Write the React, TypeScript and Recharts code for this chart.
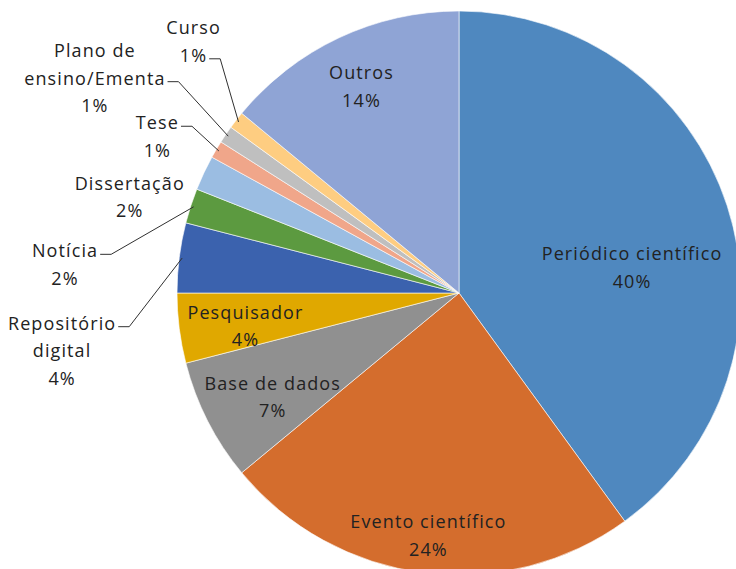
import React from 'react';
import { PieChart, Pie, Cell } from 'recharts';

// ----------------------------------------------------------------------------
// Data
// ----------------------------------------------------------------------------

const categories = [
  'Periódico científico',
  'Evento científico',
  'Base de dados',
  'Pesquisador',
  'Repositório\ndigital',
  'Notícia',
  'Dissertação',
  'Tese',
  'Plano de\nensino/Ementa',
  'Curso',
  'Outros',
];

const shares = [40, 24, 7, 4, 4, 2, 2, 1, 1, 1, 14];

const colors = [
  '#4F88BF',
  '#D46D2D',
  '#909090',
  '#E0A800',
  '#3B62AE',
  '#5C9A40',
  '#9BBDE2',
  '#F0A68A',
  '#BFBFBF',
  '#FECD81',
  '#8FA4D5',
];

// label placement: angle shift (deg, clockwise) from slice middle, distance from centre
// leader: index of the text line that carries the leader dash (-1 = none)
const labelLayout = [
  { shift: 9.5, dist: 175, leader: -1 },
  { shift: 0, dist: 244, leader: -1 },
  { shift: -2, dist: 213, leader: -1 },
  { shift: -1.5, dist: 216, leader: -1 },
  { shift: -15.4, dist: 401, leader: 0 },
  { shift: -13.8, dist: 395, leader: 0 },
  { shift: -8.9, dist: 343, leader: -1 },
  { shift: -3.1, dist: 340, leader: 0 },
  { shift: -3.6, dist: 423, leader: 1 },
  { shift: 5.7, dist: 366, leader: 1 },
  { shift: 0, dist: 229, leader: -1 },
];

const data = categories.map((name, i) => ({ name, value: shares[i] }));

// ----------------------------------------------------------------------------
// Styles
// ----------------------------------------------------------------------------

const FONT = '"Open Sans", sans-serif';
const FONT_SIZE = 18;
const LETTER_SP = 1.1;
const LINE_H = 27.5;
const TEXT_COLOR = '#222222';

const canvas = typeof document !== 'undefined' ? document.createElement('canvas') : null;
const measure = (s: string) => {
  const ctx = canvas?.getContext('2d');
  const base = ctx
    ? ((ctx.font = `${FONT_SIZE}px ${FONT}`), ctx.measureText(s).width)
    : s.length * FONT_SIZE * 0.5;
  return base + s.length * LETTER_SP;
};

const RAD = Math.PI / 180;

function SliceLabel(props: any) {
  const { cx, cy, midAngle, outerRadius, index, name, percent } = props;
  const lay = labelLayout[index];
  const cw = 90 - midAngle + lay.shift;
  const x = cx + lay.dist * Math.sin(cw * RAD);
  const y = cy - lay.dist * Math.cos(cw * RAD);
  const lines = [...String(name).split('\n'), `${Math.round(percent * 100)}%`];
  const top = y - ((lines.length - 1) * LINE_H) / 2;

  let leader = null;
  if (lay.leader >= 0) {
    const ly = top + lay.leader * LINE_H + 4;
    const x0 = x + measure(lines[lay.leader]) / 2 + 2;
    const x1 = x0 + 11;
    const ex = cx + (outerRadius - 3) * Math.cos(-midAngle * RAD);
    const ey = cy + (outerRadius - 3) * Math.sin(-midAngle * RAD);
    leader = (
      <polyline
        points={`${x0},${ly} ${x1},${ly} ${ex},${ey}`}
        fill="none"
        stroke="#303030"
        strokeWidth={1}
      />
    );
  }

  return (
    <g>
      {leader}
      <text
        x={x}
        y={top}
        textAnchor="middle"
        fill={TEXT_COLOR}
        fontFamily={FONT}
        fontSize={FONT_SIZE}
        letterSpacing={LETTER_SP}
      >
        {lines.map((t, i) => (
          <tspan key={i} x={x} y={top + i * LINE_H} dominantBaseline="central">
            {t}
          </tspan>
        ))}
      </text>
    </g>
  );
}

// ----------------------------------------------------------------------------
// Component
// ----------------------------------------------------------------------------

export default function App() {
  return (
    <div style={{ position: 'fixed', left: 0, top: 0, width: 736, height: 569, background: '#fff' }}>
      <PieChart
        width={736}
        height={569}
        margin={{ top: 0, right: 0, bottom: 0, left: 0 }}
        style={{ overflow: 'hidden' }}
      >
        <Pie
          data={data}
          dataKey="value"
          nameKey="name"
          cx={459}
          cy={293}
          outerRadius={282}
          startAngle={90}
          endAngle={-270}
          isAnimationActive={false}
          label={SliceLabel}
          labelLine={false}
          stroke="#ffffff"
          strokeWidth={0.6}
        >
          {data.map((d, i) => (
            <Cell key={`cell-${i}`} fill={colors[i]} />
          ))}
        </Pie>
      </PieChart>
    </div>
  );
}
